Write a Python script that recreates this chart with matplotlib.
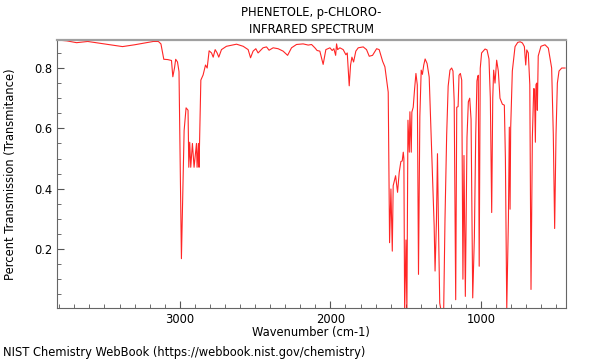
import matplotlib
matplotlib.use("Agg")
import matplotlib.pyplot as plt
from matplotlib.ticker import MultipleLocator

plt.rcParams.update({
    'font.family': 'DejaVu Sans',
    'font.size': 8.3,
})

# spectrum (wavenumber in cm-1, transmittance)
wavenumber = [
    3817, 3750, 3685, 3611, 3500, 3380, 3300, 3176, 3142, 3125,
    3106, 3080, 3055, 3046, 3035, 3027, 3015, 3005, 2989, 2971,
    2958, 2945, 2940, 2934, 2927, 2916, 2905, 2889, 2885, 2876,
    2872, 2860, 2845, 2829, 2818, 2805, 2789, 2778, 2765, 2752,
    2741, 2723, 2690, 2623, 2579, 2546, 2530, 2513, 2495, 2480,
    2447, 2424, 2407, 2380, 2347, 2314, 2284, 2258, 2225, 2181,
    2147, 2125, 2103, 2088, 2070, 2048, 2030, 2003, 1988, 1977,
    1965, 1959, 1952, 1937, 1915, 1897, 1888, 1875, 1866, 1857,
    1846, 1831, 1815, 1782, 1760, 1742, 1720, 1693, 1676, 1653,
    1638, 1622, 1616, 1607, 1598, 1589, 1583, 1567, 1554, 1543,
    1532, 1523, 1516, 1512, 1507, 1498, 1492, 1485, 1476, 1472,
    1463, 1459, 1450, 1441, 1432, 1423, 1415, 1406, 1397, 1389,
    1380, 1371, 1358, 1344, 1327, 1311, 1305, 1296, 1289, 1283,
    1274, 1260, 1248, 1239, 1228, 1218, 1206, 1195, 1186, 1178,
    1168, 1161, 1152, 1146, 1137, 1128, 1120, 1113, 1104, 1093,
    1084, 1075, 1066, 1055, 1044, 1035, 1027, 1022, 1018, 1012,
    1005, 996, 973, 960, 947, 938, 929, 922, 916, 907,
    896, 885, 874, 858, 845, 838, 829, 818, 812, 807,
    803, 792, 774, 756, 740, 725, 712, 703, 696, 686,
    676, 668, 659, 650, 645, 639, 635, 630, 626, 620,
    602, 575, 553, 531, 520, 511, 502, 493, 482, 464,
    442,
]
transmittance = [
    0.893, 0.890, 0.884, 0.888, 0.880, 0.871, 0.877, 0.888, 0.888, 0.880,
    0.829, 0.828, 0.825, 0.771, 0.800, 0.829, 0.820, 0.788, 0.168, 0.593,
    0.668, 0.660, 0.471, 0.554, 0.471, 0.550, 0.471, 0.550, 0.471, 0.550,
    0.471, 0.760, 0.777, 0.810, 0.800, 0.857, 0.850, 0.836, 0.861, 0.850,
    0.836, 0.861, 0.872, 0.879, 0.872, 0.861, 0.834, 0.856, 0.864, 0.850,
    0.867, 0.870, 0.859, 0.867, 0.864, 0.856, 0.842, 0.867, 0.878, 0.880,
    0.876, 0.878, 0.867, 0.858, 0.856, 0.812, 0.861, 0.867, 0.858, 0.864,
    0.842, 0.880, 0.861, 0.867, 0.861, 0.844, 0.850, 0.741, 0.810, 0.836,
    0.820, 0.856, 0.867, 0.870, 0.861, 0.839, 0.842, 0.864, 0.861, 0.822,
    0.804, 0.744, 0.720, 0.221, 0.399, 0.193, 0.410, 0.443, 0.388, 0.454,
    0.490, 0.492, 0.521, 0.500, -0.010, 0.230, -0.010, 0.627, 0.521, 0.655,
    0.521, 0.654, 0.670, 0.730, 0.782, 0.744, 0.116, 0.639, 0.793, 0.779,
    0.810, 0.830, 0.815, 0.770, 0.520, 0.277, 0.127, 0.290, 0.516, 0.300,
    0.021, -0.020, -0.010, 0.300, 0.577, 0.740, 0.793, 0.800, 0.790, 0.690,
    0.032, 0.670, 0.672, 0.776, 0.782, 0.760, 0.100, 0.510, 0.043, 0.570,
    0.688, 0.700, 0.630, 0.038, 0.240, 0.580, 0.757, 0.770, 0.776, 0.143,
    0.799, 0.850, 0.863, 0.860, 0.830, 0.700, 0.321, 0.700, 0.793, 0.750,
    0.826, 0.790, 0.700, 0.680, 0.677, 0.500, 0.000, 0.300, 0.604, 0.332,
    0.600, 0.790, 0.871, 0.885, 0.887, 0.883, 0.871, 0.810, 0.860, 0.850,
    0.745, 0.066, 0.570, 0.732, 0.730, 0.554, 0.745, 0.750, 0.660, 0.840,
    0.872, 0.877, 0.866, 0.800, 0.580, 0.268, 0.580, 0.750, 0.790, 0.800,
    0.800,
]

fig = plt.figure(figsize=(6, 3.6), dpi=100)
ax = fig.add_axes([0.095, 0.144, 0.848, 0.745])

ax.plot(wavenumber, transmittance, color='red', linewidth=0.8, alpha=0.85)

ax.set_xlim(3815, 437)
ax.set_ylim(0.004, 0.893)

ax.xaxis.set_major_locator(MultipleLocator(1000))
ax.xaxis.set_minor_locator(MultipleLocator(100))
ax.yaxis.set_major_locator(MultipleLocator(0.2))
ax.yaxis.set_minor_locator(MultipleLocator(0.05))
ax.tick_params(which='both', direction='in', top=False, right=False,
               colors='#555555', labelcolor='black', labelsize=8.3)
ax.tick_params(which='major', length=5)
ax.tick_params(which='minor', length=3)

for side in ['left', 'bottom', 'right']:
    ax.spines[side].set_color('#666666')
ax.spines['top'].set_color('#a0a0a0')
ax.spines['top'].set_linewidth(1.6)

ax.set_xlabel('Wavenumber (cm-1)', fontsize=8.3, labelpad=0)
ax.set_ylabel('Percent Transmission (Transmitance)', fontsize=8.3, labelpad=12)
ax.set_title('PHENETOLE, p-CHLORO-\nINFRARED SPECTRUM', fontsize=8.3, pad=5,
             linespacing=1.45)

fig.text(0.005, 0.022, 'NIST Chemistry WebBook (https://webbook.nist.gov/chemistry)',
         fontsize=8.3, ha='left', va='center')

fig.savefig('out.png', dpi=100)
